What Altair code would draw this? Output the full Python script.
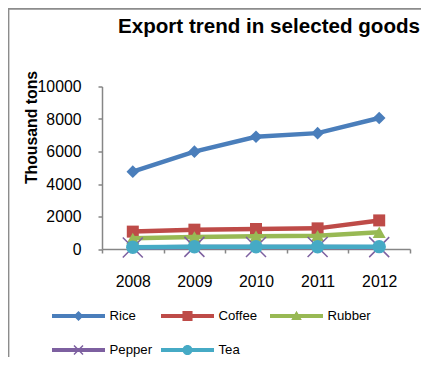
import altair as alt
import pandas as pd

years = ["2008", "2009", "2010", "2011", "2012"]
series = ["Rice", "Coffee", "Rubber", "Pepper", "Tea"]
rice = [4760, 5990, 6910, 7130, 8060]
coffee = [1070, 1190, 1230, 1270, 1760]
rubber = [660, 740, 790, 820, 1030]
pepper = [90, 130, 120, 125, 115]
tea = [105, 135, 135, 135, 145]
colors = ["#4A7EBB", "#BE4B48", "#98B954", "#7D60A0", "#46AAC5"]
y_ticks = [0, 2000, 4000, 6000, 8000, 10000]

values = [rice, coffee, rubber, pepper, tea]
rows = []
for s, vals in zip(series, values):
    for yr, v in zip(years, vals):
        rows.append({"year": yr, "series": s, "value": v})
df = pd.DataFrame(rows)

FONT = "Liberation Sans"
W, H = 308, 162.5
PAD_L, PAD_T = 94, 78.5
SVG_W, SVG_H = 413, 349

X_PATH = "M-1,-1L1,1M-1,1L1,-1"
marker_shapes = ["diamond", "square", "triangle-up", X_PATH, "circle"]
marker_sizes = [160, 144, 170, 400, 180]
marker_filled = [True, True, True, False, True]

BAR = "M-1,-0.075L1,-0.075L1,0.075L-1,0.075Z"
legend_paths = [
    BAR + "M0,-0.19L0.19,0L0,0.19L-0.19,0Z",
    BAR + "M-0.19,-0.19L0.19,-0.19L0.19,0.19L-0.19,0.19Z",
    BAR + "M0,-0.2L0.2,0.15L-0.2,0.15Z",
    BAR + "M-0.19,-0.15L-0.15,-0.19L0.19,0.15L0.15,0.19ZM0.15,-0.19L0.19,-0.15L-0.15,0.19L-0.19,0.15Z",
    BAR + "M0.19,0A0.19,0.19 0 1,1 -0.19,0A0.19,0.19 0 1,1 0.19,0Z",
]

color_scale = alt.Scale(domain=series, range=colors)
x_enc = alt.X(
    "year:O",
    sort=years,
    scale=alt.Scale(type="band", paddingInner=0, paddingOuter=0),
    axis=alt.Axis(
        title=None, labelAngle=0, labelFont=FONT, labelFontSize=15.8,
        labelColor="black", tickBand="extent", tickSize=4, tickColor="#868686",
        domainColor="#868686", domainWidth=1.5, tickWidth=1.5, labelPadding=21,
        grid=False,
    ),
)
y_enc = alt.Y(
    "value:Q",
    scale=alt.Scale(domain=[0, 10000], nice=False),
    axis=alt.Axis(
        values=y_ticks, format="d", title="Thousand tons", titleFont=FONT,
        titleFontSize=15.8, titleFontWeight="bold", titleColor="black",
        titleX=-65.3, titleY=40.5, titleAngle=270, titleAlign="center",
        titleBaseline="alphabetic",
        labelFont=FONT, labelFontSize=15.8, labelColor="black", labelPadding=17,
        tickSize=4, tickColor="#868686", tickWidth=1.5, domainColor="#868686",
        domainWidth=1.5, grid=False,
    ),
)

frame = alt.Chart(alt.Data(values=[{"f": 1}])).mark_rect(
    fill="transparent", stroke="#8C8C8C", strokeWidth=1.8
).encode(
    x=alt.value(-PAD_L + 0.5), x2=alt.value(W + 100),
    y=alt.value(-PAD_T + 0.8), y2=alt.value(H + 300),
)

layers = [frame]
for i, s in enumerate(series):
    base = alt.Chart(df).transform_filter(alt.datum.series == s)
    line = base.mark_line(strokeWidth=4.5, color=colors[i]).encode(x=x_enc, y=y_enc)
    pts = base.mark_point(
        shape=marker_shapes[i], size=marker_sizes[i], filled=marker_filled[i],
        opacity=1, strokeWidth=1.5, color=colors[i],
    ).encode(x=x_enc, y=y_enc)
    layers += [line, pts]

leg_kwargs = dict(
    title=None, orient="none", legendX=-50, legendY=219.5, columns=3,
    direction="horizontal",
    gridAlign="all", columnPadding=8, rowPadding=14, clipHeight=20,
    symbolSize=2809, symbolStrokeWidth=0, symbolOpacity=1,
    labelFont=FONT, labelFontSize=13.2, labelColor="black", labelOffset=4.5,
    padding=0,
)
legend_layer = alt.Chart(df).transform_filter("false").mark_point(
    filled=True, size=2809
).encode(
    x=x_enc, y=y_enc,
    color=alt.Color("series:N", scale=color_scale, legend=alt.Legend(**leg_kwargs)),
    shape=alt.Shape("series:N", scale=alt.Scale(domain=series, range=legend_paths),
                    legend=alt.Legend(**leg_kwargs)),
)
layers.append(legend_layer)

chart = alt.layer(*layers).properties(
    width=W, height=H,
    autosize=alt.AutoSizeParams(type="none"),
    padding={"left": PAD_L, "top": PAD_T, "right": SVG_W - PAD_L - W,
             "bottom": SVG_H - PAD_T - H},
    title=alt.TitleParams(
        "Export trend in selected goods", font=FONT, fontSize=20.6,
        fontWeight="bold", color="black", anchor="middle", dx=13, offset=0,
        dy=30, frame="group",
    ),
).configure_view(stroke=None)

chart.save("out.html", embed_options={"renderer": "svg", "actions": False})
